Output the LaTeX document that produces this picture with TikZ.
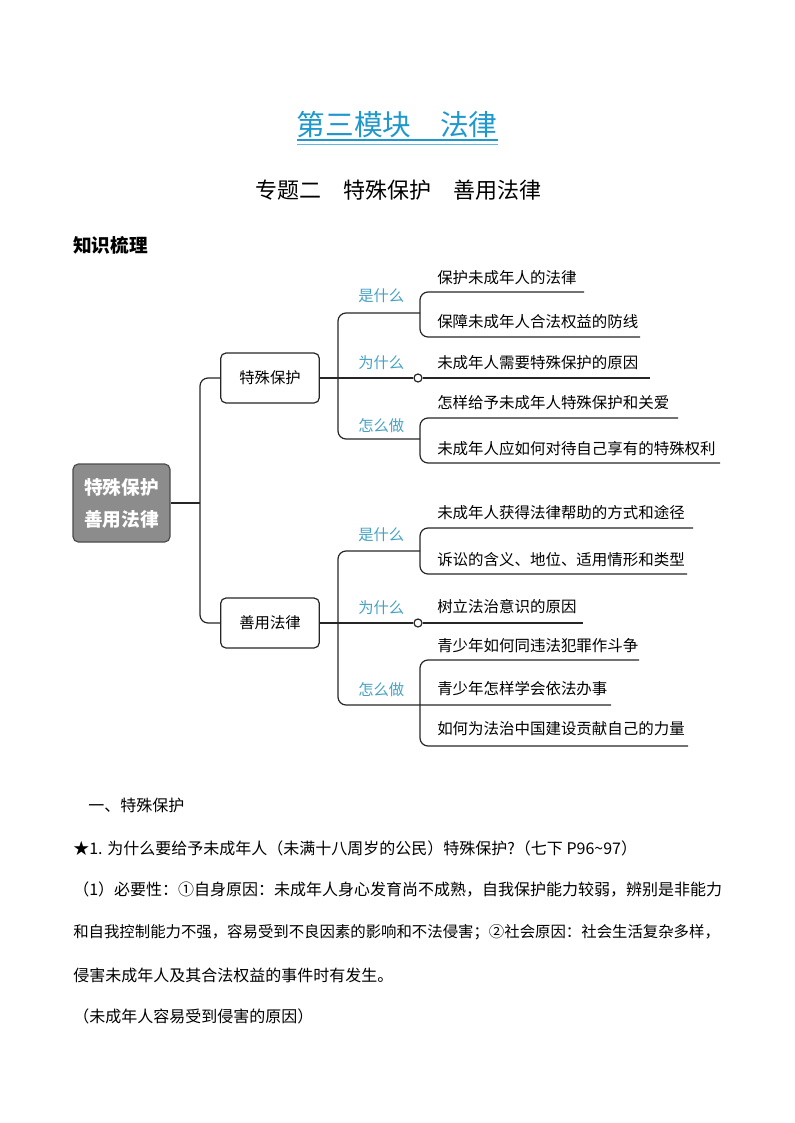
\documentclass[tikz,border=0pt]{standalone}
\usepackage{fontspec}
\setmainfont{Noto Sans CJK SC}
\definecolor{titlec}{RGB}{30,152,205}
\definecolor{lblc}{RGB}{70,162,195}
\definecolor{rootg}{RGB}{140,140,140}
\begin{document}
\begin{tikzpicture}[x=0.75pt,y=-0.75pt,
  conn/.style={draw=black!85, line width=0.9pt, rounded corners=6pt},
  lbl/.style={anchor=west, inner sep=0pt, text=lblc, font=\fontsize{11.5}{13}\selectfont},
  item/.style={anchor=west, inner sep=0pt, font=\fontsize{11.6}{13}\selectfont},
  boxn/.style={draw=black!85, line width=0.9pt, rounded corners=4pt, fill=white,
    minimum width=74pt, minimum height=37.5pt, font=\fontsize{11.5}{13}\selectfont},
  rootn/.style={draw=black!70, line width=0.9pt, rounded corners=4pt, fill=rootg,
    minimum width=72.75pt, minimum height=58.5pt, text=white, align=center,
    font=\fontsize{14}{24}\selectfont\bfseries},
  circn/.style={circle, draw=black!85, line width=0.9pt, fill=white, inner sep=0pt, minimum size=6pt},
  body/.style={anchor=west, inner sep=0pt, font=\fontsize{12}{14}\selectfont}
]
\useasboundingbox (0,0) rectangle (794,1123);

% ---------- headings ----------
\node[inner sep=0pt, text=titlec, font=\fontsize{21.5}{24}\selectfont] (title) at (397,125) {第三模块　法律};
\draw[titlec, line width=1.5pt] (297,140) -- (498,140);
\draw[titlec!70, line width=0.6pt] (297,144) -- (498,144);
\node[inner sep=0pt, font=\fontsize{16.5}{20}\selectfont] (sub) at (398,190) {专题二　特殊保护　善用法律};
\node[anchor=west, inner sep=0pt, font=\fontsize{14}{16}\selectfont\bfseries] (zs) at (73,245) {知识梳理};

% ---------- mind map nodes ----------
\node[rootn] (root) at (121.5,503) {特殊保护\\善用法律};
\node[boxn] (b1) at (270,378) {特殊保护};
\node[boxn] (b2) at (270,623) {善用法律};

\coordinate (tr) at (200,503);
\draw[conn] (root.east) -- (tr);
\draw[conn] (b1.west) -| (tr) |- (b2.west);

% ===== branch 1 =====
\node[circn] (c1) at (418,378) {};
\coordinate (br1) at (338,378);
\coordinate (s1) at (420,313);
\coordinate (z1) at (420,439);
\coordinate (e1) at (584,292);
\coordinate (e2) at (640,337);
\coordinate (e3) at (650,378);
\coordinate (e4) at (678,418);
\coordinate (e5) at (720,463);
\draw[conn] (b1.east) -- (c1.west);
\draw[conn] (c1.east) -- (e3);
\draw[conn] (s1) -| (br1) |- (z1);
\draw[conn] (e1) -| (s1) |- (e2);
\draw[conn] (e4) -| (z1) |- (e5);

\node[lbl] (l11) at (358,296) {是什么};
\node[lbl] (l12) at (358,363) {为什么};
\node[lbl] (l13) at (358,426) {怎么做};

\node[item] (i11) at (437,277.5) {保护未成年人的法律};
\node[item] (i12) at (437,322) {保障未成年人合法权益的防线};
\node[item] (i13) at (437,363) {未成年人需要特殊保护的原因};
\node[item] (i14) at (437,403) {怎样给予未成年人特殊保护和关爱};
\node[item] (i15) at (437,449) {未成年人应如何对待自己享有的特殊权利};

% ===== branch 2 =====
\node[circn] (c2) at (418,623) {};
\coordinate (br2) at (338,623);
\coordinate (s2) at (420,551);
\coordinate (z2) at (420,705);
\coordinate (f1) at (693,528);
\coordinate (f2) at (687,574);
\coordinate (f3) at (583,623);
\coordinate (f4) at (639,660);
\coordinate (f5) at (611,705);
\coordinate (f6) at (688,746);
\draw[conn] (b2.east) -- (c2.west);
\draw[conn] (c2.east) -- (f3);
\draw[conn] (s2) -| (br2) |- (f5);
\draw[conn] (f1) -| (s2) |- (f2);
\draw[conn] (f4) -| (z2) |- (f6);

\node[lbl] (l21) at (358,535) {是什么};
\node[lbl] (l22) at (358,608) {为什么};
\node[lbl] (l23) at (358,690) {怎么做};

\node[item] (i21) at (437,513) {未成年人获得法律帮助的方式和途径};
\node[item] (i22) at (437,559.5) {诉讼的含义、地位、适用情形和类型};
\node[item] (i23) at (437,607) {树立法治意识的原因};
\node[item] (i24) at (437,646) {青少年如何同违法犯罪作斗争};
\node[item] (i25) at (437,689) {青少年怎样学会依法办事};
\node[item] (i26) at (437,729) {如何为法治中国建设贡献自己的力量};

% ---------- body text ----------
\node[body] (t1) at (88,805) {一、特殊保护};
\node[body] (t2) at (73,848) {★1. 为什么要给予未成年人（未满十八周岁的公民）特殊保护?（七下 P96\textasciitilde97）};
\node[body] (t3) at (73,889) {（1）必要性：①自身原因：未成年人身心发育尚不成熟，自我保护能力较弱，辨别是非能力};
\node[body] (t4) at (73,932) {\resizebox{485pt}{!}{和自我控制能力不强，容易受到不良因素的影响和不法侵害；②社会原因：社会生活复杂多样，}};
\node[body] (t5) at (73,975) {侵害未成年人及其合法权益的事件时有发生。};
\node[body] (t6) at (73,1016) {（未成年人容易受到侵害的原因）};
\end{tikzpicture}
\end{document}
